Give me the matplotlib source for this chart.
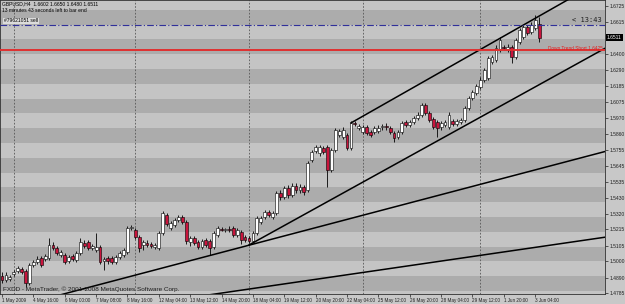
import matplotlib
matplotlib.use("Agg")
import matplotlib.pyplot as plt
import numpy as np

plt.rcParams['font.family'] = ['Liberation Sans', 'DejaVu Sans']

# GBPUSD H4 candles, 1 May - 3 Jun 2009
opens = [1.4900, 1.4873, 1.4880, 1.4914, 1.4934, 1.4948, 1.4934, 1.4853, 1.4975, 1.4995,
         1.5022, 1.5015, 1.5022, 1.5110, 1.5090, 1.5042, 1.5042, 1.5002, 1.5035, 1.5008,
         1.5056, 1.5123, 1.5130, 1.5090, 1.5076, 1.5096, 1.5002, 1.5022, 1.5022, 1.4995,
         1.5029, 1.5042, 1.5062, 1.5225, 1.5211, 1.5164, 1.5110, 1.5123, 1.5117, 1.5096,
         1.5090, 1.5191, 1.5313, 1.5225, 1.5245, 1.5279, 1.5299, 1.5265, 1.5130, 1.5157,
         1.5130, 1.5096, 1.5144, 1.5137, 1.5096, 1.5177, 1.5218, 1.5211, 1.5218, 1.5225,
         1.5177, 1.5198, 1.5164, 1.5157, 1.5137, 1.5191, 1.5265, 1.5299, 1.5333, 1.5299,
         1.5326, 1.5461, 1.5434, 1.5495, 1.5448, 1.5509, 1.5482, 1.5502, 1.5482, 1.5684,
         1.5745, 1.5732, 1.5766, 1.5772, 1.5617, 1.5752, 1.5853, 1.5840, 1.5853, 1.5766,
         1.5935, 1.5901, 1.5874, 1.5908, 1.5874, 1.5874, 1.5880, 1.5908, 1.5914, 1.5901,
         1.5867, 1.5840, 1.5874, 1.5941, 1.5921, 1.5941, 1.5968, 1.5989, 1.6056, 1.6002,
         1.5962, 1.5941, 1.5908, 1.5921, 1.5908, 1.5948, 1.5928, 1.5941, 1.5955, 1.6036,
         1.6104, 1.6137, 1.6178, 1.6225, 1.6239, 1.6347, 1.6360, 1.6428, 1.6448, 1.6428,
         1.6448, 1.6381, 1.6482, 1.6516, 1.6584, 1.6550, 1.6577, 1.6602]
highs = [1.4927, 1.4927, 1.4907, 1.4941, 1.4968, 1.4961, 1.4948, 1.4988, 1.5008, 1.5035,
         1.5035, 1.5049, 1.5157, 1.5130, 1.5103, 1.5076, 1.5056, 1.5042, 1.5049, 1.5069,
         1.5157, 1.5144, 1.5144, 1.5117, 1.5191, 1.5110, 1.5029, 1.5035, 1.5035, 1.5042,
         1.5069, 1.5090, 1.5238, 1.5245, 1.5225, 1.5177, 1.5144, 1.5144, 1.5130, 1.5123,
         1.5204, 1.5340, 1.5326, 1.5272, 1.5292, 1.5313, 1.5313, 1.5279, 1.5170, 1.5170,
         1.5144, 1.5150, 1.5157, 1.5150, 1.5204, 1.5238, 1.5231, 1.5225, 1.5238, 1.5238,
         1.5225, 1.5211, 1.5177, 1.5170, 1.5204, 1.5306, 1.5306, 1.5346, 1.5346, 1.5340,
         1.5475, 1.5482, 1.5509, 1.5515, 1.5529, 1.5529, 1.5522, 1.5515, 1.5678, 1.5752,
         1.5786, 1.5786, 1.5779, 1.5786, 1.5766, 1.5901, 1.5894, 1.5908, 1.5867, 1.5948,
         1.5948, 1.5928, 1.5921, 1.5921, 1.5887, 1.5914, 1.5921, 1.5928, 1.5935, 1.5914,
         1.5880, 1.5887, 1.5948, 1.5955, 1.5955, 1.5982, 1.6009, 1.6070, 1.6070, 1.6016,
         1.5975, 1.5955, 1.5948, 1.5955, 1.6009, 1.5962, 1.5962, 1.5968, 1.6049, 1.6117,
         1.6158, 1.6198, 1.6245, 1.6306, 1.6387, 1.6394, 1.6462, 1.6516, 1.6462, 1.6469,
         1.6462, 1.6509, 1.6577, 1.6597, 1.6597, 1.6617, 1.6665, 1.6650]
lows = [1.4853, 1.4860, 1.4866, 1.4900, 1.4920, 1.4914, 1.4826, 1.4839, 1.4961, 1.4981,
        1.4961, 1.5002, 1.5008, 1.5076, 1.5042, 1.5029, 1.4981, 1.4988, 1.5002, 1.4995,
        1.5042, 1.5090, 1.5076, 1.5076, 1.5062, 1.4981, 1.4941, 1.4981, 1.4981, 1.4981,
        1.5015, 1.5029, 1.5049, 1.5211, 1.5150, 1.5062, 1.5076, 1.5096, 1.5090, 1.5083,
        1.5076, 1.5177, 1.5238, 1.5211, 1.5231, 1.5265, 1.5252, 1.5117, 1.5103, 1.5110,
        1.5083, 1.5083, 1.5096, 1.5042, 1.5083, 1.5164, 1.5204, 1.5198, 1.5198, 1.5164,
        1.5164, 1.5117, 1.5130, 1.5123, 1.5123, 1.5177, 1.5252, 1.5286, 1.5299, 1.5286,
        1.5313, 1.5414, 1.5421, 1.5428, 1.5434, 1.5461, 1.5461, 1.5448, 1.5468, 1.5671,
        1.5732, 1.5711, 1.5725, 1.5502, 1.5603, 1.5739, 1.5840, 1.5826, 1.5752, 1.5752,
        1.5914, 1.5887, 1.5860, 1.5853, 1.5840, 1.5860, 1.5867, 1.5887, 1.5887, 1.5860,
        1.5806, 1.5826, 1.5860, 1.5908, 1.5908, 1.5928, 1.5955, 1.5975, 1.5989, 1.5941,
        1.5894, 1.5840, 1.5887, 1.5908, 1.5894, 1.5914, 1.5914, 1.5928, 1.5941, 1.6022,
        1.6090, 1.6124, 1.6164, 1.6212, 1.6225, 1.6333, 1.6347, 1.6414, 1.6428, 1.6414,
        1.6340, 1.6367, 1.6469, 1.6502, 1.6529, 1.6536, 1.6563, 1.6480]
closes = [1.4873, 1.4907, 1.4893, 1.4927, 1.4954, 1.4927, 1.4853, 1.4975, 1.4995, 1.5015,
          1.4975, 1.5035, 1.5110, 1.5090, 1.5056, 1.5062, 1.4995, 1.5029, 1.5015, 1.5056,
          1.5130, 1.5103, 1.5090, 1.5103, 1.5096, 1.4995, 1.5015, 1.5002, 1.4995, 1.5029,
          1.5056, 1.5076, 1.5225, 1.5231, 1.5164, 1.5090, 1.5130, 1.5110, 1.5103, 1.5110,
          1.5191, 1.5326, 1.5252, 1.5259, 1.5279, 1.5299, 1.5265, 1.5137, 1.5157, 1.5123,
          1.5096, 1.5137, 1.5110, 1.5090, 1.5191, 1.5225, 1.5211, 1.5218, 1.5211, 1.5177,
          1.5211, 1.5144, 1.5144, 1.5137, 1.5191, 1.5292, 1.5292, 1.5333, 1.5313, 1.5326,
          1.5461, 1.5434, 1.5495, 1.5448, 1.5509, 1.5482, 1.5502, 1.5468, 1.5664, 1.5739,
          1.5772, 1.5772, 1.5739, 1.5617, 1.5752, 1.5887, 1.5880, 1.5887, 1.5766, 1.5935,
          1.5928, 1.5914, 1.5908, 1.5867, 1.5853, 1.5901, 1.5901, 1.5914, 1.5908, 1.5874,
          1.5833, 1.5874, 1.5935, 1.5921, 1.5941, 1.5968, 1.5989, 1.6056, 1.6002, 1.5955,
          1.5908, 1.5901, 1.5935, 1.5941, 1.5989, 1.5928, 1.5948, 1.5955, 1.6036, 1.6104,
          1.6144, 1.6185, 1.6225, 1.6293, 1.6374, 1.6381, 1.6442, 1.6496, 1.6442, 1.6448,
          1.6381, 1.6496, 1.6563, 1.6584, 1.6543, 1.6597, 1.6631, 1.6511]

date_labels = ['1 May 2009', '4 May 16:00', '6 May 00:00', '7 May 08:00', '8 May 16:00',
               '12 May 04:00', '13 May 12:00', '14 May 20:00', '18 May 04:00', '19 May 12:00',
               '20 May 20:00', '22 May 04:00', '25 May 12:00', '26 May 20:00', '28 May 04:00',
               '29 May 12:00', '1 Jun 20:00', '3 Jun 04:00']
price_ticks = [1.6725, 1.6615, 1.6400, 1.6290, 1.6185, 1.6075, 1.5970, 1.5860, 1.5755,
               1.5645, 1.5535, 1.5430, 1.5320, 1.5215, 1.5105, 1.5000, 1.4890, 1.4785]
week_starts = [3, 34, 63, 92, 122]

# trend lines: (bar, price) anchors, flag = extend to the left too
trend_lines = [((89, 1.5935), (130, 1.6552), False),
               ((63, 1.5110), (130, 1.6091), False),
               ((16, 1.4781), (130, 1.5576), True),
               ((52, 1.4770), (130, 1.5071), True)]
down_trend_level = 1.6425
order_level = 1.6597
last_price = 1.6511

W, H = 625, 304
def fpx(x, y):
    return x / W, 1 - y / H

fig = plt.figure(figsize=(W / 100, H / 100), dpi=100, facecolor='#c8c8c8')
ax = fig.add_axes([0, 10 / H, 605 / W, 294 / H])
ax.set_xlim(-0.51, 153.8)
ax.set_ylim(1.4779, 1.6766)

# shaded price bands
for k in range(147, 168):
    ax.axhspan(k / 100, (k + 1) / 100, color='#acacac' if k % 2 == 0 else '#c4c4c4',
               lw=0, zorder=0)

for w in week_starts:
    ax.axvline(w, color='#555555', lw=0.6, ls=(0, (2, 2)), zorder=1)

o = np.array(opens)
c = np.array(closes)
idx = np.arange(len(o))
up = c >= o
ax.vlines(idx, lows, highs, color='black', lw=0.6, zorder=3)
body_lo = np.minimum(o, c)
body_h = np.maximum(np.abs(c - o), 0.00006)
ax.bar(idx, body_h, 0.72, bottom=body_lo, color=np.where(up, 'white', '#c8143c'),
       edgecolor='black', lw=0.4, zorder=4)

for (x1, y1), (x2, y2), left in trend_lines:
    slope = (y2 - y1) / (x2 - x1)
    xs = np.array([-2, 160]) if left else np.array([x1, 160])
    ax.plot(xs, y1 + slope * (xs - x1), color='black', lw=1.1, zorder=5)

ax.axhline(down_trend_level, color='#e03030', lw=1.4, zorder=5)
ax.axhline(order_level, color='#30309a', lw=0.8, ls=(0, (6, 2, 1, 2)), zorder=5)

ax.yaxis.tick_right()
ax.set_yticks(price_ticks)
ax.set_yticklabels([f'{p:.4f}' for p in price_ticks])
ax.set_xticks(np.arange(len(date_labels)) * 8)
ax.set_xticklabels(date_labels)
for t in ax.get_xticklabels():
    t.set_horizontalalignment('left')
ax.tick_params(axis='y', labelsize=3.6, length=2, width=0.5, pad=1, colors='#202020')
ax.tick_params(axis='x', labelsize=3.3, length=2, width=0.5, pad=1, colors='#202020')
for s in ax.spines.values():
    s.set_color('#303030')
    s.set_linewidth(0.6)

fs = dict(fontsize=3.6, color='black')
fig.text(*fpx(2, 4), 'GBPUSD,H4  1.6602 1.6650 1.6480 1.6511', va='center', **fs)
fig.text(*fpx(2, 10), '13 minutes 43 seconds left to bar end', va='center', **fs)
fig.text(*fpx(4, 21), '#79621051 sell', va='center', fontsize=3.6, color='black',
         bbox=dict(facecolor='#dcdcdc', edgecolor='none', pad=0.6))
fig.text(*fpx(572, 20), '< 13:43', va='center', fontsize=5, family='DejaVu Sans Mono',
         color='#202020')
fig.text(*fpx(603, 48), 'Down Trend Short 1.6425', va='center', ha='right', fontsize=3.4,
         color='#e02020')
fig.text(*fpx(3, 289), 'FXDD - MetaTrader, \u00a9 2001-2008 MetaQuotes Software Corp.',
         va='center', fontsize=4.6, color='#202020')
ax.text(1.003, last_price, f'{last_price:.4f}', transform=ax.get_yaxis_transform(),
        va='center', ha='left', fontsize=3.6, color='white',
        bbox=dict(facecolor='black', edgecolor='none', pad=0.8))

fig.savefig('out.png', dpi=100, facecolor=fig.get_facecolor())
